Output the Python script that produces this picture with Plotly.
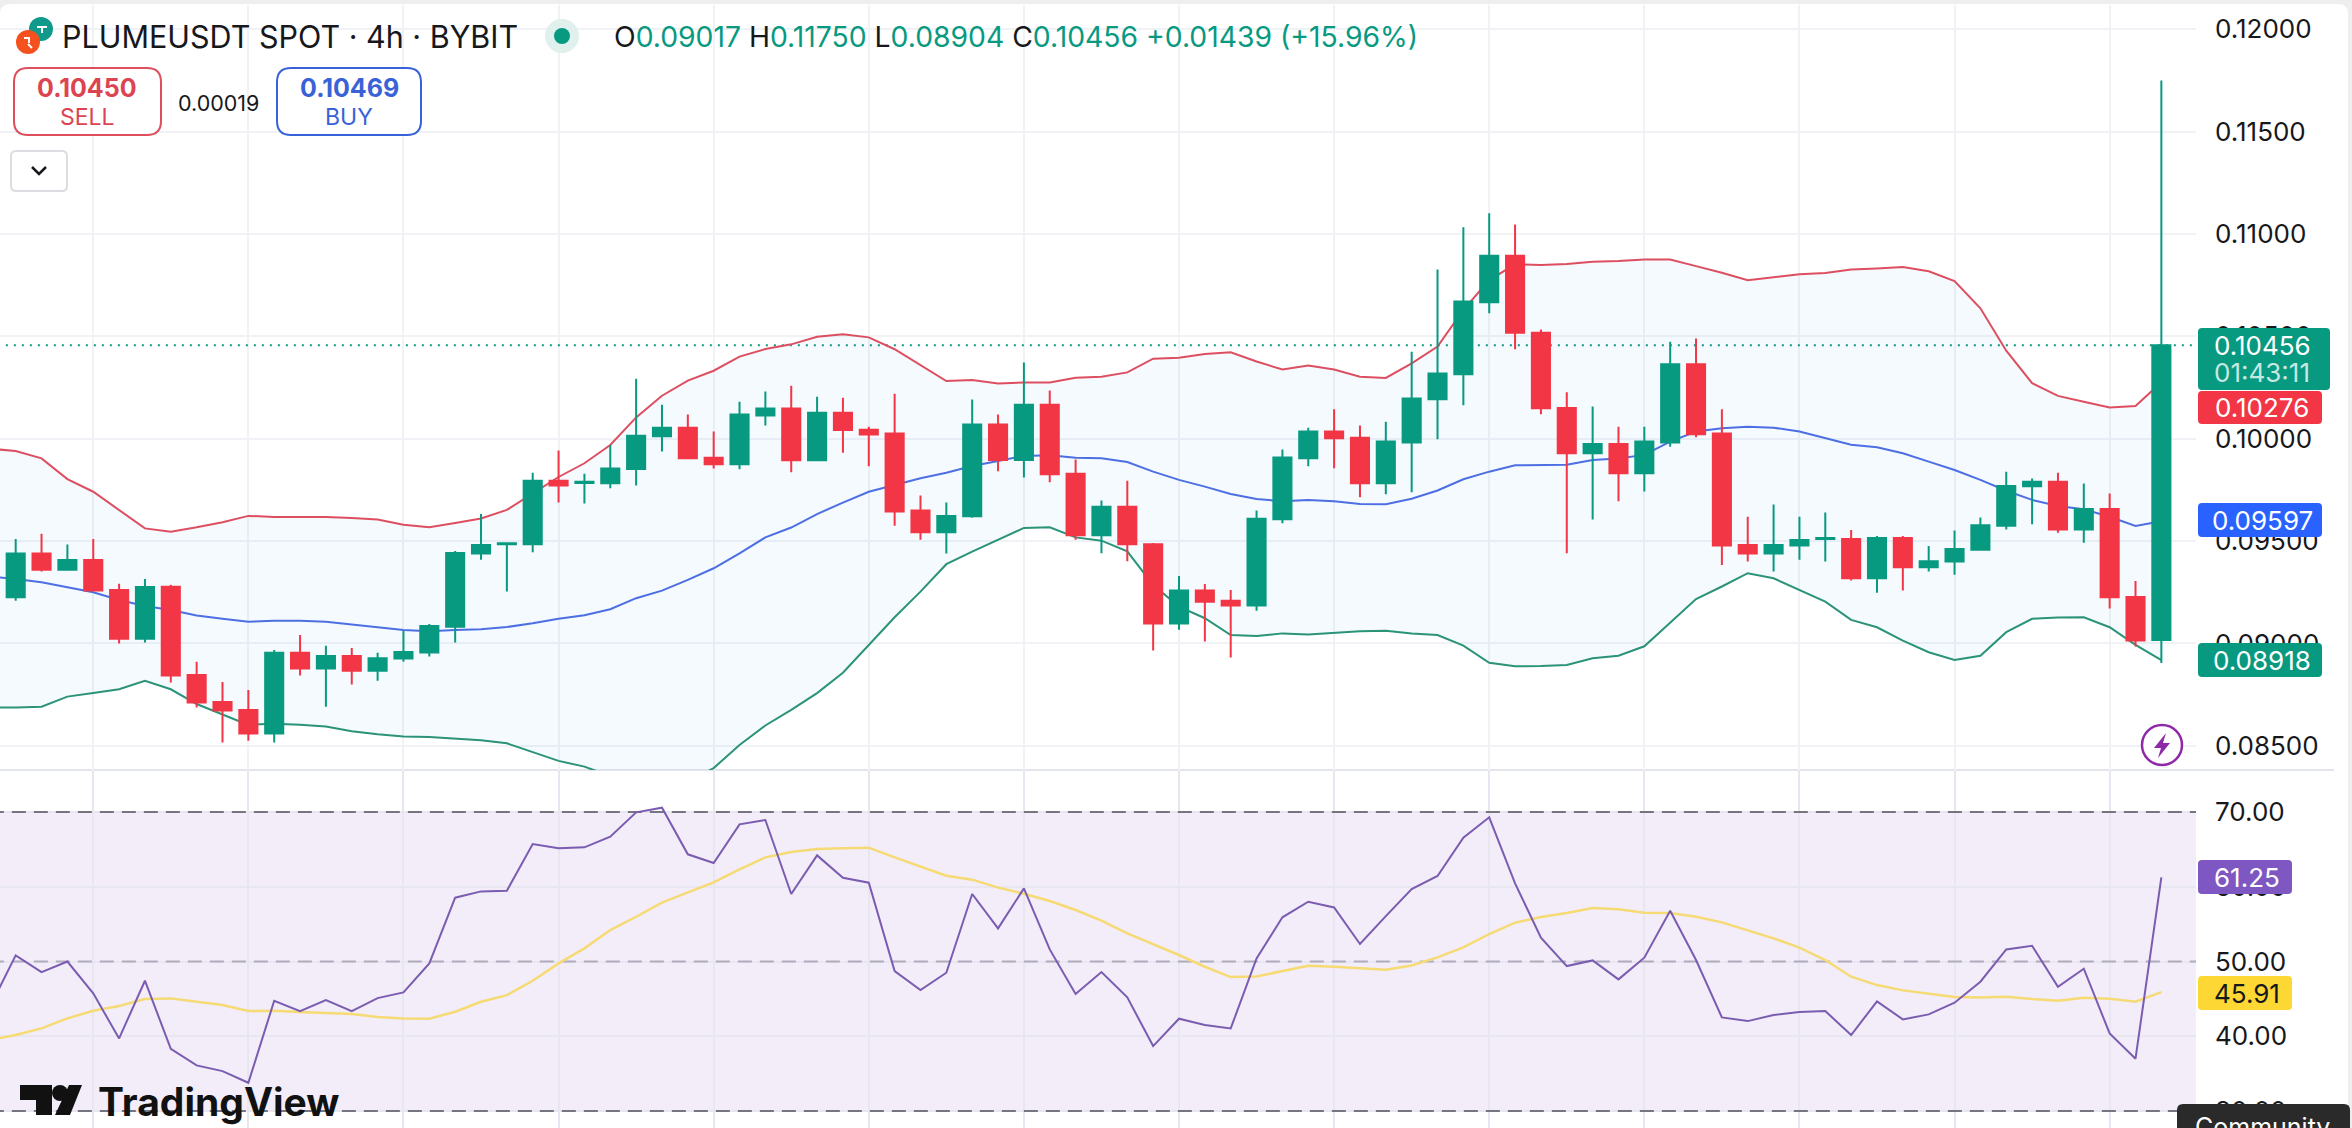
import plotly.graph_objects as go

W, H = 2352, 1128
PANE_R = 2196

# 4h candles
opens = [.09225, .09439, .09360, .09408, .09261, .09023, .09277, .08846, .08714, .08675, .08560, .08954,
         .08877, .08939, .08867, .08926, .08955, .09082, .09439, .09484, .09484, .09795, .09784, .09782,
         .09852, .10012, .10054, .09907, .09875, .10113, .10147, .09895, .10127, .10044, .10025, .09649,
         .09543, .09621, .10069, .09896, .10166, .09829, .09528, .09667, .09484, .09097, .09258, .09209,
         .09185, .09607, .09904, .10035, .10005, .09782, .09982, .10193, .10315, .10666, .10894, .10518,
         .10150, .09929, .09974, .09831, .09982, .10364, .10025, .09481, .09439, .09478, .09510, .09510,
         .09318, .09515, .09372, .09400, .09458, .09575, .09768, .09790, .09556, .09657, .09227, .09017]
highs = [.09510, .09536, .09483, .09510, .09291, .09315, .09286, .08910, .08812, .08773, .08968, .09041,
         .08988, .08978, .08954, .09061, .09095, .09452, .09632, .09489, .09834, .09942, .09829, .09969,
         .10293, .10166, .10118, .10035, .10181, .10230, .10259, .10205, .10200, .10059, .10220, .09722,
         .09688, .10191, .10118, .10372, .10235, .09899, .09698, .09795, .09490, .09329, .09290, .09261,
         .09649, .09947, .10054, .10144, .10064, .10083, .10425, .10827, .11033, .11101, .11047, .10533,
         .10227, .10157, .10059, .10059, .10474, .10489, .10144, .09619, .09678, .09619, .09639, .09554,
         .09525, .09525, .09476, .09551, .09615, .09839, .09805, .09834, .09781, .09732, .09305, .11750]
lows = [.09209, .09351, .09360, .09255, .08999, .09004, .08809, .08687, .08516, .08525, .08516, .08843,
        .08691, .08799, .08818, .08911, .08936, .09004, .09409, .09253, .09445, .09688, .09683, .09758,
        .09772, .09937, .09904, .09855, .09851, .10064, .09836, .09890, .09932, .09865, .09575, .09507,
        .09439, .09614, .09841, .09811, .09787, .09507, .09440, .09401, .08965, .09067, .09009, .08931,
        .09160, .09587, .09865, .09856, .09714, .09729, .09738, .09997, .10163, .10613, .10437, .10119,
        .09440, .09605, .09694, .09742, .09961, .10007, .09383, .09400, .09351, .09409, .09400, .09307,
        .09248, .09258, .09351, .09336, .09453, .09556, .09582, .09541, .09492, .09170, .08985, .08904]
closes = [.09439, .09360, .09408, .09258, .09023, .09276, .08843, .08711, .08672, .08560, .08954, .08877,
          .08939, .08867, .08927, .08958, .09085, .09442, .09481, .09489, .09795, .09772, .09790, .09854,
          .10015, .10054, .09904, .09875, .10118, .10147, .09895, .10127, .10043, .10021, .09645, .09543,
          .09623, .10069, .09896, .10166, .09826, .09528, .09667, .09484, .09097, .09258, .09204, .09185,
          .09609, .09908, .10035, .10002, .09782, .09986, .10196, .10318, .10670, .10894, .10517, .10149,
          .09929, .09974, .09831, .09986, .10364, .10022, .09478, .09439, .09481, .09505, .09515, .09318,
          .09515, .09372, .09401, .09461, .09577, .09769, .09790, .09556, .09657, .09225, .09014, .10456]

# Bollinger bands start one candle left of the frame
bb_upper = [.09951, .09940, .09904, .09803, .09741, .09652, .09562, .09546, .09567, .09592, .09623, .09618,
            .09618, .09618, .09613, .09605, .09580, .09567, .09588, .09610, .09652, .09733, .09813, .09880,
            .09969, .10104, .10210, .10284, .10332, .10401, .10438, .10461, .10498, .10510, .10495, .10437,
            .10360, .10282, .10287, .10270, .10275, .10275, .10298, .10303, .10324, .10391, .10396, .10414,
            .10422, .10377, .10338, .10357, .10338, .10303, .10297, .10368, .10450, .10629, .10775, .10852,
            .10849, .10853, .10865, .10868, .10875, .10875, .10843, .10811, .10774, .10787, .10803, .10810,
            .10827, .10832, .10839, .10818, .10770, .10637, .10430, .10271, .10209, .10181, .10152, .10160,
            .10276]
bb_basis = [.09326, .09315, .09299, .09274, .09250, .09212, .09183, .09163, .09136, .09121, .09106, .09111,
            .09111, .09106, .09093, .09080, .09066, .09059, .09066, .09069, .09080, .09098, .09120, .09138,
            .09167, .09221, .09258, .09310, .09367, .09440, .09518, .09566, .09632, .09688, .09741, .09774,
            .09807, .09834, .09867, .09891, .09916, .09919, .09907, .09904, .09886, .09839, .09799, .09766,
            .09730, .09706, .09694, .09701, .09694, .09681, .09680, .09707, .09747, .09802, .09839, .09870,
            .09870, .09873, .09896, .09903, .09921, .09986, .10035, .10051, .10059, .10054, .10035, .10002,
            .09971, .09958, .09929, .09888, .09847, .09799, .09746, .09701, .09671, .09655, .09619, .09574,
            .09597]
bb_lower = [.08687, .08687, .08691, .08740, .08758, .08776, .08817, .08776, .08704, .08654, .08602, .08608,
            .08603, .08594, .08571, .08556, .08545, .08543, .08535, .08527, .08512, .08468, .08426, .08398,
            .08352, .08333, .08308, .08323, .08391, .08504, .08599, .08675, .08757, .08857, .08993, .09128,
            .09253, .09387, .09448, .09505, .09564, .09567, .09518, .09502, .09450, .09285, .09180, .09123,
            .09041, .09036, .09049, .09044, .09053, .09059, .09062, .09048, .09041, .08989, .08905, .08888,
            .08890, .08895, .08927, .08940, .08986, .09102, .09217, .09278, .09343, .09318, .09261, .09204,
            .09115, .09079, .09014, .08957, .08919, .08940, .09055, .09120, .09126, .09128, .09079, .08993,
            .08918]

rsi = [43.9, 50.82, 48.59, 50.00, 45.74, 39.71, 47.43, 38.33, 36.10, 35.34, 33.78, 44.75, 43.37, 44.84, 43.37,
       45.11, 45.87, 49.75, 58.54, 59.38, 59.47, 65.72, 65.14, 65.27, 66.70, 69.96, 70.58, 64.34, 63.18, 68.35,
       68.93, 59.03, 64.20, 61.21, 60.54, 48.72, 46.18, 48.50, 59.03, 54.43, 59.79, 51.62, 45.65, 48.59, 45.20,
       38.69, 42.35, 41.50, 41.05, 50.42, 55.91, 58.00, 57.24, 52.34, 56.08, 59.70, 61.44, 66.57, 69.29, 60.46,
       53.18, 49.39, 50.15, 47.61, 50.51, 56.80, 50.20, 42.52, 42.03, 42.84, 43.24, 43.37, 40.16, 44.67, 42.26,
       42.93, 44.49, 47.30, 51.62, 52.11, 46.63, 49.04, 40.38, 37.00, 61.25]
rsi_ma = [39.5, 40.16, 41.05, 42.39, 43.42, 44.04, 44.98, 45.07, 44.62, 44.18, 43.37, 43.42, 43.24, 43.06, 42.97,
          42.57, 42.39, 42.35, 43.28, 44.62, 45.51, 47.43, 49.75, 51.76, 54.21, 55.99, 57.87, 59.25, 60.59, 62.33,
          63.93, 64.65, 65.05, 65.14, 65.23, 63.93, 62.69, 61.48, 60.95, 59.88, 59.07, 58.09, 56.89, 55.46, 53.76,
          52.34, 50.87, 49.30, 47.92, 48.01, 48.68, 49.44, 49.30, 49.13, 48.90, 49.48, 50.55, 51.89, 53.68, 55.19,
          55.95, 56.49, 57.15, 56.98, 56.53, 56.49, 55.99, 55.24, 54.21, 53.10, 51.85, 50.20, 47.97, 46.85, 46.14,
          45.65, 45.25, 45.20, 45.29, 44.98, 44.75, 45.16, 45.02, 44.62, 45.91]

price_ticks = [.085, .09, .095, .10, .105, .11, .115, .12]
rsi_ticks = [30, 40, 50, 60, 70]
rsi_levels = [30, 50, 70]
last_close = .10456

candle_x = list(range(len(closes)))
line_x = list(range(-1, len(closes)))

UP = '#089981'
DOWN = '#F23645'
GRID = '#f1f2f5'
INK = '#17181c'
FONT = 'Inter'


def fx(px):
    return px / W


def fy(py):
    return 1 - py / H


def round_rect(x0, y0, x1, y1, r):
    # path in paper coords, args in page pixels
    pts = [
        f'M{fx(x0 + r)} {fy(y0)}', f'L{fx(x1 - r)} {fy(y0)}', f'Q{fx(x1)} {fy(y0)} {fx(x1)} {fy(y0 + r)}',
        f'L{fx(x1)} {fy(y1 - r)}', f'Q{fx(x1)} {fy(y1)} {fx(x1 - r)} {fy(y1)}',
        f'L{fx(x0 + r)} {fy(y1)}', f'Q{fx(x0)} {fy(y1)} {fx(x0)} {fy(y1 - r)}',
        f'L{fx(x0)} {fy(y0 + r)}', f'Q{fx(x0)} {fy(y0)} {fx(x0 + r)} {fy(y0)}', 'Z',
    ]
    return ''.join(pts)


def poly(points):
    return 'M' + 'L'.join(f'{fx(a)} {fy(b)}' for a, b in points) + 'Z'


shapes = []
notes = []


def box(x0, y0, x1, y1, r=6, fill='white', line=None, width=2, layer='above'):
    shapes.append(dict(type='path', path=round_rect(x0, y0, x1, y1, r), xref='paper', yref='paper',
                       fillcolor=fill, line=dict(color=line or fill, width=width if line else 0), layer=layer))


def circle(cx, cy, r, fill, line=None, width=0, layer='above'):
    shapes.append(dict(type='circle', xref='paper', yref='paper', x0=fx(cx - r), x1=fx(cx + r),
                       y0=fy(cy + r), y1=fy(cy - r), fillcolor=fill,
                       line=dict(color=line or fill, width=width), layer=layer))


def text(x, y, s, size, color=INK, anchor='left', family=FONT):
    notes.append(dict(x=fx(x), y=fy(y), xref='paper', yref='paper', text=s, showarrow=False, xanchor=anchor,
                      yanchor='middle', font=dict(size=size, color=color, family=family)))


fig = go.Figure()

# bands sit under the candles, candles are on an overlaid axis
fig.add_trace(go.Scatter(x=line_x, y=bb_upper, mode='lines', line=dict(color='#dd4f60', width=2), hoverinfo='skip'))
fig.add_trace(go.Scatter(x=line_x, y=bb_lower, mode='lines', line=dict(color='#2b9378', width=2), hoverinfo='skip',
                         fill='tonexty', fillcolor='rgba(33,150,243,0.05)'))
fig.add_trace(go.Scatter(x=line_x, y=bb_basis, mode='lines', line=dict(color='#4d6fe3', width=2), hoverinfo='skip'))
fig.add_trace(go.Candlestick(
    x=candle_x, open=opens, high=highs, low=lows, close=closes, yaxis='y3',
    increasing=dict(line=dict(color=UP, width=2), fillcolor=UP),
    decreasing=dict(line=dict(color=DOWN, width=2), fillcolor=DOWN),
))

fig.add_trace(go.Scatter(x=line_x, y=rsi_ma, xaxis='x2', yaxis='y2', mode='lines',
                         line=dict(color='#f6da74', width=2.5), hoverinfo='skip'))
fig.add_trace(go.Scatter(x=line_x, y=rsi, xaxis='x2', yaxis='y2', mode='lines',
                         line=dict(color='#7a5cb0', width=2), hoverinfo='skip'))

# card behind everything
box(0, 4, 2348, 1140, r=10, layer='below')

# rsi band and levels
shapes.append(dict(type='rect', xref='x2', yref='y2', x0=-1, x1=85, y0=rsi_levels[0], y1=rsi_levels[-1],
                   fillcolor='#f2edf9', line=dict(width=0), layer='below'))
for lvl in rsi_levels:
    shapes.append(dict(type='line', xref='x2', yref='y2', x0=-1, x1=85, y0=lvl, y1=lvl, layer='between',
                       line=dict(color='#b0abbd' if lvl == 50 else '#77757f', width=2, dash='14px,8px')))

# last price dotted line
shapes.append(dict(type='line', xref='x', yref='y', x0=-1, x1=85, y0=last_close, y1=last_close, layer='between',
                   line=dict(color=UP, width=2, dash='2px,6px')))

# pane separator
shapes.append(dict(type='line', xref='paper', yref='paper', x0=0, x1=fx(2334), y0=fy(770), y1=fy(770),
                   line=dict(color='#e3e5ec', width=2), layer='below'))

# header
circle(41, 29, 12, '#0f9a8b')
shapes.append(dict(type='path', xref='paper', yref='paper', line=dict(color='white', width=2),
                   path=f'M{fx(37)} {fy(27)}L{fx(47)} {fy(27)}M{fx(42)} {fy(27)}L{fx(42)} {fy(33)}'))
circle(28, 42, 12, '#f4511e')
shapes.append(dict(type='path', xref='paper', yref='paper', line=dict(color='white', width=2),
                   path=f'M{fx(24)} {fy(38)}L{fx(29)} {fy(38)}L{fx(29)} {fy(43)}M{fx(28)} {fy(44)}L{fx(32)} {fy(48)}'))
text(60, 37, 'PLUMEUSDT SPOT · 4h · BYBIT', 30.5)
circle(562, 36, 17, '#dff0ed')
circle(562, 36, 8, UP)
v = f'<span style="color:{UP}">'
text(612, 37, f'O{v}0.09017</span> H{v}0.11750</span> L{v}0.08904</span> C{v}0.10456</span> '
              f'{v}+0.01439 (+15.96%)</span>', 28.3)

# sell / buy
box(14, 68, 161, 135, r=14, line='#dd4f5d', width=2)
text(87, 88, '<b>0.10450</b>', 25, '#dd4452', 'center')
text(87, 117, 'SELL', 23, '#dd4452', 'center')
text(218, 103, '0.00019', 21.5, INK, 'center')
box(277, 68, 421, 135, r=14, line='#3a62d8', width=2)
text(349, 88, '<b>0.10469</b>', 25, '#3a62d8', 'center')
text(349, 117, 'BUY', 23, '#3a62d8', 'center')
box(11, 151, 67, 191, r=5, line='#dcdde1', width=2)
shapes.append(dict(type='path', xref='paper', yref='paper', line=dict(color=INK, width=2.5),
                   path=f'M{fx(32)} {fy(167)}L{fx(39)} {fy(174)}L{fx(46)} {fy(167)}'))

# price scale labels
box(2198, 328, 2330, 390, r=4, fill=UP)
text(2262, 345, '0.10456', 26, 'white', 'center')
text(2262, 373, '01:43:11', 26, '#c5e8e1', 'center')
box(2198, 391, 2322, 424, r=4, fill=DOWN)
text(2262, 407, '0.10276', 26, 'white', 'center')
box(2198, 503, 2322, 537, r=4, fill='#2962FF')
text(2262, 520, '0.09597', 26, 'white', 'center')
box(2198, 643, 2322, 677, r=4, fill=UP)
text(2262, 660, '0.08918', 26, 'white', 'center')
box(2198, 860, 2292, 894, r=4, fill='#7E57C2')
text(2247, 877, '61.25', 26, 'white', 'center')
box(2198, 976, 2292, 1010, r=4, fill='#FDD835')
text(2247, 993, '45.91', 26, INK, 'center')

# bolt button
circle(2162, 745, 20, 'white', '#8e2aa8', 2.5)
shapes.append(dict(type='path', xref='paper', yref='paper', fillcolor='#8e2aa8', line=dict(width=0),
                   path=poly([(2166, 733), (2154, 748), (2161, 748), (2158, 758), (2170, 743), (2163, 743)])))

# logo
for pts in ([(20, 1085), (52, 1085), (52, 1115), (36, 1115), (36, 1100), (20, 1100)],
            [(69, 1085), (82, 1085), (70, 1115), (55, 1115)]):
    shapes.append(dict(type='path', xref='paper', yref='paper', fillcolor='#111', line=dict(width=0), path=poly(pts)))
circle(60, 1093, 8, '#111')
text(96, 1101, '<b>TradingView</b>', 39, '#111')

# tooltip at the bottom corner
box(2177, 1104, 2350, 1150, r=6, fill='#2a2a2a')
text(2193, 1127, 'Community', 25, 'white')

fig.update_layout(
    width=W, height=H, margin=dict(l=0, r=0, t=0, b=0), autosize=False,
    paper_bgcolor='#eeeeee', plot_bgcolor='rgba(0,0,0,0)', showlegend=False, boxgap=0.3, boxgroupgap=0,
    font=dict(family=FONT, size=26, color=INK), shapes=shapes, annotations=notes,
    xaxis=dict(domain=[0, PANE_R / W], range=[-0.607, 84.34], rangeslider=dict(visible=False), showticklabels=False,
               tick0=3, dtick=6, showgrid=True, gridcolor=GRID, gridwidth=2, zeroline=False, anchor='y'),
    xaxis2=dict(domain=[0, PANE_R / W], range=[-0.607, 84.34], showticklabels=False, tick0=3, dtick=6, showgrid=True,
                gridcolor='#e8e6f0', gridwidth=2, zeroline=False, anchor='y2'),
    yaxis=dict(domain=[1 - 770 / H, 1 - 5 / H], range=[.083816, .121187], side='right', tickvals=price_ticks,
               tickformat='.5f', showgrid=True, gridcolor=GRID, gridwidth=2, zeroline=False, anchor='x',
               ticklabelstandoff=18),
    yaxis3=dict(domain=[1 - 770 / H, 1 - 5 / H], range=[.083816, .121187], overlaying='y', visible=False),
    yaxis2=dict(domain=[0, 1 - 770 / H], range=[27.73, 75.62], side='right', tickvals=rsi_ticks, tickformat='.2f',
                showgrid=True, gridcolor='#e8e6f0', gridwidth=2, zeroline=False, anchor='x2', ticklabelstandoff=18),
)

# page body has a default margin that would push the figure off the window
fig.write_html("out.html", config=dict(displayModeBar=False),
               post_script="document.body.style.margin='0';document.documentElement.style.overflow='hidden';")
